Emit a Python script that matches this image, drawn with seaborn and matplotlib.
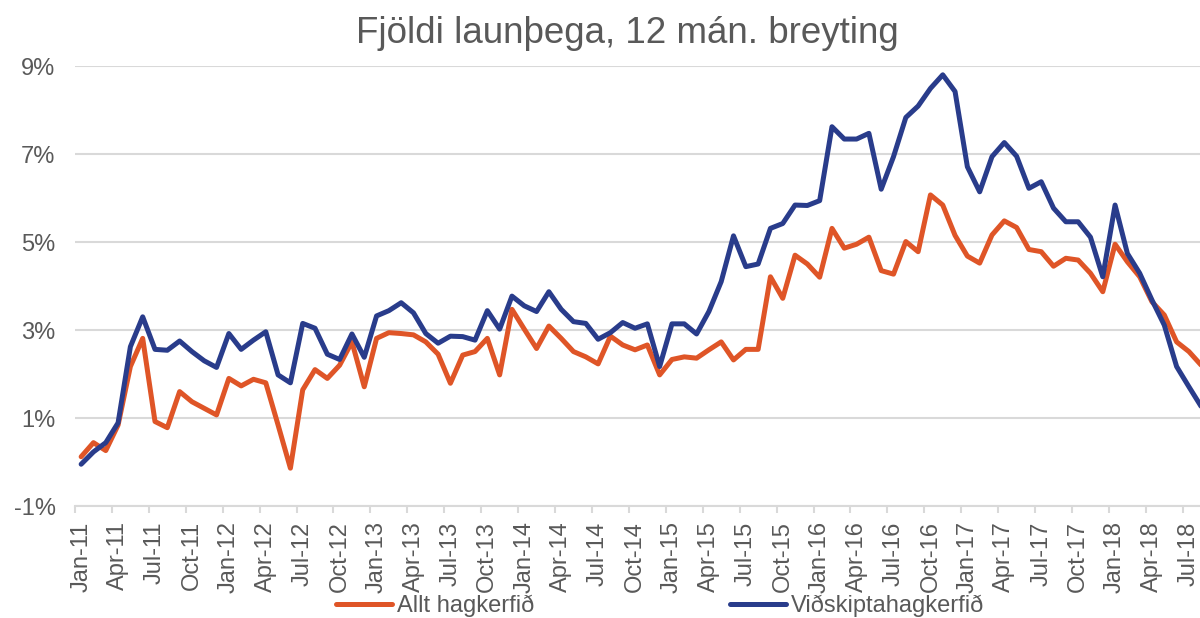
import seaborn as sns
import matplotlib.pyplot as plt
import pandas as pd
import numpy as np

# --- data (12-month change, %) Jan-11 .. Aug-18 ---
allt_hagkerfid = [
    0.12, 0.44, 0.26, 0.84, 2.17, 2.81, 0.92, 0.78, 1.60, 1.37, 1.22, 1.07,
    1.90, 1.73, 1.88, 1.80, 0.84, -0.14, 1.64, 2.10, 1.90, 2.20, 2.73, 1.71,
    2.81, 2.94, 2.92, 2.89, 2.73, 2.45, 1.79, 2.43, 2.51, 2.81, 1.98, 3.47,
    3.02, 2.58, 3.09, 2.81, 2.51, 2.39, 2.23, 2.86, 2.66, 2.55, 2.66, 1.98,
    2.33, 2.39, 2.36, 2.55, 2.73, 2.32, 2.56, 2.56, 4.21, 3.72, 4.70, 4.50,
    4.20, 5.31, 4.86, 4.95, 5.11, 4.35, 4.27, 5.01, 4.78, 6.07, 5.84, 5.15,
    4.68, 4.52, 5.16, 5.48, 5.33, 4.83, 4.78, 4.45, 4.63, 4.59, 4.29, 3.87,
    4.95, 4.55, 4.21, 3.64, 3.34, 2.73, 2.51, 2.20,
]
vidskiptahagkerfid = [
    -0.05, 0.23, 0.44, 0.89, 2.62, 3.30, 2.56, 2.54, 2.75, 2.51, 2.30, 2.15,
    2.92, 2.56, 2.77, 2.96, 1.98, 1.80, 3.15, 3.04, 2.45, 2.33, 2.91, 2.38,
    3.32, 3.44, 3.62, 3.39, 2.92, 2.70, 2.86, 2.85, 2.77, 3.44, 3.02, 3.77,
    3.55, 3.42, 3.87, 3.47, 3.19, 3.15, 2.79, 2.94, 3.17, 3.04, 3.14, 2.17,
    3.14, 3.14, 2.91, 3.42, 4.10, 5.14, 4.44, 4.50, 5.31, 5.42, 5.84, 5.83,
    5.94, 7.62, 7.34, 7.34, 7.47, 6.20, 6.94, 7.83, 8.09, 8.49, 8.80, 8.42,
    6.71, 6.14, 6.94, 7.26, 6.95, 6.22, 6.37, 5.77, 5.46, 5.46, 5.11, 4.21,
    5.84, 4.74, 4.29, 3.68, 3.11, 2.17, 1.71, 1.26,
]
tick_labels = [
    "Jan-11", "Apr-11", "Jul-11", "Oct-11", "Jan-12", "Apr-12", "Jul-12", "Oct-12",
    "Jan-13", "Apr-13", "Jul-13", "Oct-13", "Jan-14", "Apr-14", "Jul-14", "Oct-14",
    "Jan-15", "Apr-15", "Jul-15", "Oct-15", "Jan-16", "Apr-16", "Jul-16", "Oct-16",
    "Jan-17", "Apr-17", "Jul-17", "Oct-17", "Jan-18", "Apr-18", "Jul-18",
]
series_names = ["Allt hagkerfið", "Viðskiptahagkerfið"]
y_ticks = [-1, 1, 3, 5, 7, 9]

n = len(allt_hagkerfid)
df = pd.DataFrame({
    "idx": list(range(n)) * 2,
    "value": allt_hagkerfid + vidskiptahagkerfid,
    "series": [series_names[0]] * n + [series_names[1]] * n,
})

sns.set_theme(style="white")
plt.rcParams['font.family'] = ['Liberation Sans', 'DejaVu Sans']

text_color = "#595959"
grid_color = "#d9d9d9"
palette = {series_names[0]: "#DF5527", series_names[1]: "#293C8B"}

fig = plt.figure(figsize=(12, 6.18), dpi=100)
ax = fig.add_axes([0.0625, 0.1812, 0.9375, 0.712])

sns.lineplot(data=df, x="idx", y="value", hue="series", palette=palette,
             linewidth=3.6, ax=ax, solid_joinstyle="round", solid_capstyle="round")

handles, labels = ax.get_legend_handles_labels()
ax.get_legend().remove()

ax.set_xlim(-0.5, 90.9)
ax.set_ylim(-1, 9)
ax.set_yticks(y_ticks)
ax.set_yticklabels([f"{v}%" for v in y_ticks])
ax.set_xticks(np.arange(0, 3 * len(tick_labels), 3))
ax.set_xticklabels(tick_labels, rotation=90)
ax.set_xticks(np.arange(-0.5, 91, 3), minor=True)
ax.set_xlabel("")
ax.set_ylabel("")

ax.grid(axis="y", color=grid_color, linewidth=1.5)
ax.grid(axis="x", visible=False)
ax.set_axisbelow(True)
for s in ["top", "right", "left"]:
    ax.spines[s].set_visible(False)
ax.spines["bottom"].set_color(grid_color)
ax.spines["bottom"].set_linewidth(1.5)

ax.tick_params(axis="y", length=0, pad=14, labelsize=17, labelcolor=text_color)
ax.tick_params(axis="x", which="major", length=0, pad=11, labelsize=17, labelcolor=text_color)
ax.tick_params(axis="x", which="minor", length=5, width=1.5, color=grid_color, bottom=True)

fig.text(627 / 1200, 1 - 43 / 618, "Fjöldi launþega, 12 mán. breyting",
         ha="center", va="baseline", fontsize=26.5, color=text_color)

leg = fig.legend(handles, labels, loc="center", bbox_to_anchor=(660 / 1200, 12 / 618),
                 ncol=2, frameon=False, fontsize=17, handlelength=2.37,
                 handletextpad=0.2, columnspacing=8.3, borderpad=0, borderaxespad=0)
for t in leg.get_texts():
    t.set_color(text_color)
for h in leg.get_lines():
    h.set_linewidth(3.6)

fig.savefig("out.png", dpi=100)
